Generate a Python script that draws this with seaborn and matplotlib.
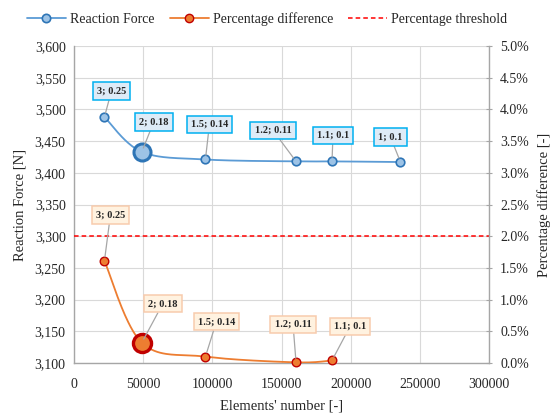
import numpy as np
import pandas as pd
import matplotlib
matplotlib.use("Agg")
import matplotlib.pyplot as plt
from matplotlib.lines import Line2D
from matplotlib.ticker import FuncFormatter, MultipleLocator
import seaborn as sns

# Mesh convergence study data
elements = [22000, 49000, 95000, 160500, 186500, 236000]
reaction_force = [3488, 3433, 3421, 3418, 3418, 3417]
pct_elements = [22000, 49000, 95000, 160500, 186500]
pct_difference = [1.61, 0.32, 0.10, 0.01, 0.04]
mesh_labels = ["3; 0.25", "2; 0.18", "1.5; 0.14", "1.2; 0.11", "1.1; 0.1", "1; 0.1"]
threshold = 2.0

force_df = pd.DataFrame({"elements": elements, "force": reaction_force})
pct_df = pd.DataFrame({"elements": pct_elements, "pct": pct_difference})

BLUE_LINE = "#5B9BD5"
BLUE_FILL = "#9DC3E6"
BLUE_EDGE = "#2E75B6"
ORANGE_LINE = "#ED7D31"
ORANGE_EDGE = "#C00000"

sns.set_theme(style="whitegrid")
plt.rcParams["font.family"] = ["Liberation Serif", "DejaVu Serif"]
plt.rcParams["text.color"] = "#262626"


def smooth_curve(xs, ys, n=40):
    """Catmull-Rom smoothing through the given points (spreadsheet-style smooth line)."""
    pts = np.column_stack([xs, ys]).astype(float)
    ext = np.vstack([pts[0], pts, pts[-1]])
    out = []
    t = np.linspace(0, 1, n)[:, None]
    for i in range(1, len(ext) - 2):
        p0, p1, p2, p3 = ext[i - 1], ext[i], ext[i + 1], ext[i + 2]
        seg = 0.5 * ((2 * p1) + (-p0 + p2) * t + (2 * p0 - 5 * p1 + 4 * p2 - p3) * t ** 2
                     + (-p0 + 3 * p1 - 3 * p2 + p3) * t ** 3)
        out.append(seg)
    c = np.vstack(out)
    return c[:, 0], c[:, 1]


fig = plt.figure(figsize=(5.51, 4.16), dpi=100)
ax = fig.add_axes([0.1343, 0.1274, 0.7532, 0.7620])
ax2 = ax.twinx()

# left axis: reaction force
ax.set_xlim(0, 300000)
ax.set_ylim(3100, 3600)
ax.xaxis.set_major_locator(MultipleLocator(50000))
ax.yaxis.set_major_locator(MultipleLocator(50))
ax.yaxis.set_major_formatter(FuncFormatter(lambda v, p: f"{v:,.0f}"))
ax.grid(True, color="#D9D9D9", linewidth=0.8)
ax.set_facecolor("white")
for side in ["top", "right"]:
    ax.spines[side].set_visible(False)
for side in ["left", "bottom"]:
    ax.spines[side].set_color("#A6A6A6")
    ax.spines[side].set_linewidth(1.0)
ax.tick_params(axis="y", labelsize=10, colors="#262626", length=0, pad=6)
ax.tick_params(axis="x", labelsize=10, colors="#262626", length=0, pad=11)

# right axis: percentage difference
ax2.set_ylim(0, 5)
ax2.yaxis.set_major_locator(MultipleLocator(0.5))
ax2.yaxis.set_major_formatter(FuncFormatter(lambda v, p: f"{v:.1f}%"))
ax2.grid(False)
for side in ["top", "left", "bottom"]:
    ax2.spines[side].set_visible(False)
ax2.spines["right"].set_color("#A6A6A6")
ax2.spines["right"].set_linewidth(1.0)
ax2.tick_params(axis="y", labelsize=10, colors="#262626", length=4, width=0.8,
                direction="inout", pad=6)
ax2.tick_params(axis="y", color="#A6A6A6")

# threshold line
ax2.axhline(threshold, color="#FF0000", linestyle=(0, (3, 2)), linewidth=1.1, zorder=2)

# reaction force curve
sx, sy = smooth_curve(force_df["elements"], force_df["force"])
ax.plot(sx, sy, color=BLUE_LINE, linewidth=1.3, zorder=3)
sns.scatterplot(data=force_df, x="elements", y="force", ax=ax, s=38, color=BLUE_FILL,
                edgecolor=BLUE_EDGE, linewidth=1.2, zorder=4, legend=False)
ax.scatter([elements[1]], [reaction_force[1]], s=150, color=BLUE_FILL, edgecolor=BLUE_EDGE,
           linewidth=2.2, zorder=5)

# percentage difference curve
px, py = smooth_curve(pct_df["elements"], pct_df["pct"])
ax2.plot(px, py, color=ORANGE_LINE, linewidth=1.3, zorder=3)
sns.scatterplot(data=pct_df, x="elements", y="pct", ax=ax2, s=38, color=ORANGE_LINE,
                edgecolor=ORANGE_EDGE, linewidth=1.0, zorder=4, legend=False, clip_on=False)
ax2.scatter([pct_elements[1]], [pct_difference[1]], s=170, color=ORANGE_LINE,
            edgecolor=ORANGE_EDGE, linewidth=2.4, zorder=5)

ax.set_xlabel("Elements' number [-]", fontsize=10.5, labelpad=6)
ax.set_ylabel("Reaction Force [N]", fontsize=10.5, labelpad=6)
ax2.set_xlabel("")
ax2.set_ylabel("Percentage difference [-]", fontsize=10.5, labelpad=6)

# data-label callouts
force_offsets = [(7, 26), (12, 30), (4, 35), (-23, 31), (1, 26), (-10, 25)]
pct_offsets = [(6, 46), (21, 39), (11, 35), (-3, 38), (18, 34)]

for xv, yv, txt, off in zip(elements, reaction_force, mesh_labels, force_offsets):
    ax.annotate(txt, (xv, yv), xytext=off, textcoords="offset pixels",
                ha="center", va="center", fontsize=7.5, fontweight="bold", color="#262626",
                bbox=dict(boxstyle="square,pad=0.4", fc="#DEEBF7", ec="#00B0F0", lw=1.1),
                arrowprops=dict(arrowstyle="-", color="#A6A6A6", lw=0.9, shrinkA=0, shrinkB=3),
                zorder=6)

for xv, yv, txt, off in zip(pct_elements, pct_difference, mesh_labels, pct_offsets):
    ax2.annotate(txt, (xv, yv), xytext=off, textcoords="offset pixels",
                 ha="center", va="center", fontsize=7.5, fontweight="bold", color="#262626",
                 bbox=dict(boxstyle="square,pad=0.4", fc="#FFF2E0", ec="#F8CBAD", lw=1.1),
                 arrowprops=dict(arrowstyle="-", color="#A6A6A6", lw=0.9, shrinkA=0, shrinkB=3),
                 zorder=6)

# legend
handles = [
    Line2D([], [], color=BLUE_LINE, lw=1.3, marker="o", markersize=6,
           markerfacecolor=BLUE_FILL, markeredgecolor=BLUE_EDGE, markeredgewidth=1.2),
    Line2D([], [], color=ORANGE_LINE, lw=1.3, marker="o", markersize=6,
           markerfacecolor=ORANGE_LINE, markeredgecolor=ORANGE_EDGE, markeredgewidth=1.0),
    Line2D([], [], color="#FF0000", lw=1.1, linestyle=(0, (3, 2))),
]
fig.legend(handles, ["Reaction Force", "Percentage difference", "Percentage threshold"],
           loc="center", bbox_to_anchor=(0.485, 0.955), ncol=3, frameon=False, fontsize=10,
           handlelength=2.8, columnspacing=1.1, handletextpad=0.3)

fig.savefig("out.png", dpi=100)
